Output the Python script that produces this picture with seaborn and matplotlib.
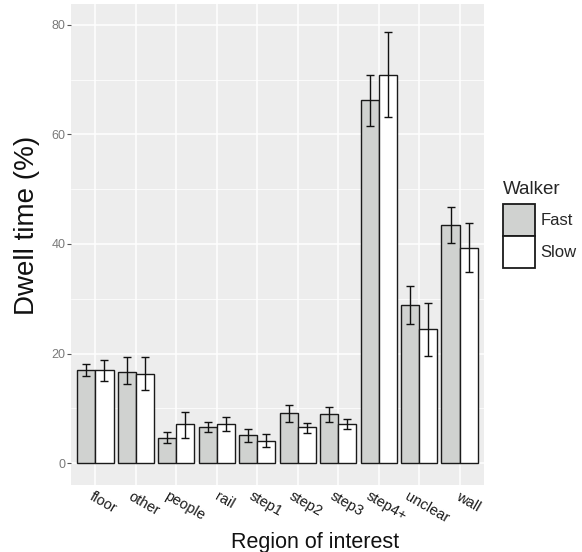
import numpy as np
import pandas as pd
import matplotlib
matplotlib.use('Agg')
import matplotlib.pyplot as plt
import matplotlib.patches as mpatches
import matplotlib.transforms as mtransforms
import seaborn as sns

# Data (dwell time %, with lower/upper error bar ends)
regions = ['floor', 'other', 'people', 'rail', 'step1', 'step2', 'step3', 'step4+', 'unclear', 'wall']
walkers = ['Fast', 'Slow']

fast_mean = [17.0, 16.7, 4.6, 6.6, 5.1, 9.1, 8.9, 66.2, 28.9, 43.5]
fast_low = [15.9, 14.4, 3.6, 5.6, 3.8, 7.5, 7.5, 61.6, 25.4, 40.2]
fast_high = [18.1, 19.3, 5.6, 7.5, 6.3, 10.6, 10.2, 70.8, 32.3, 46.8]

slow_mean = [17.0, 16.3, 7.1, 7.1, 4.1, 6.5, 7.1, 70.9, 24.4, 39.3]
slow_low = [15.0, 13.3, 4.6, 5.8, 2.9, 5.5, 6.15, 63.1, 19.5, 34.8]
slow_high = [18.9, 19.3, 9.4, 8.5, 5.4, 7.4, 8.0, 78.6, 29.3, 43.9]

y_ticks = [0, 20, 40, 60, 80]

df = pd.DataFrame({
    'region': regions * 2,
    'walker': ['Fast'] * len(regions) + ['Slow'] * len(regions),
    'dwell': fast_mean + slow_mean,
    'low': fast_low + slow_low,
    'high': fast_high + slow_high,
})

sns.set_theme(style='darkgrid')
plt.rcParams['font.family'] = ['Liberation Sans', 'DejaVu Sans']

fig = plt.figure(figsize=(5.82, 5.52), dpi=100)
ax = fig.add_axes([71 / 582, 1 - 485 / 552, 413 / 582, 481 / 552])
ax.set_facecolor('#EDEDED')

palette = {'Fast': '#D0D2D0', 'Slow': '#FFFFFF'}
sns.barplot(data=df, x='region', y='dwell', hue='walker', order=regions,
            hue_order=walkers, palette=palette, errorbar=None, width=0.9,
            edgecolor='#1a1a1a', linewidth=1.0, saturation=1, ax=ax, legend=False, zorder=3)

# error bars at the bar centres
for cont, w in zip(ax.containers, walkers):
    sub = df[df['walker'] == w].set_index('region').loc[regions]
    xs = [p.get_x() + p.get_width() / 2 for p in cont.patches]
    yerr = [sub['dwell'] - sub['low'], sub['high'] - sub['dwell']]
    ax.errorbar(xs, sub['dwell'], yerr=yerr, fmt='none', ecolor='#111111',
                elinewidth=1.0, capsize=3, capthick=1.0, zorder=4)

ax.set_xlim(-0.6, 9.6)
ax.set_ylim(-4.0, 83.8)
ax.set_yticks(y_ticks)
ax.set_yticks([10, 30, 50, 70], minor=True)
ax.grid(True, which='major', color='white', linewidth=1.1, zorder=0)
ax.grid(True, which='minor', axis='y', color='white', linewidth=0.55, zorder=0)
ax.set_axisbelow(True)
for s in ax.spines.values():
    s.set_visible(False)

ax.tick_params(axis='y', which='major', length=3, width=0.8, color='#555555',
               labelsize=9, labelcolor='#7a7a7a', pad=1, left=True)
ax.tick_params(axis='y', which='minor', length=0)
ax.tick_params(axis='x', length=0, labelsize=10.5, labelcolor='#1a1a1a', pad=3)
offset = mtransforms.ScaledTranslation(8 / 100, 0, fig.dpi_scale_trans)
for lbl in ax.get_xticklabels():
    lbl.set_rotation(-30)
    lbl.set_ha('center')
    lbl.set_transform(lbl.get_transform() + offset)

ax.set_xlabel('Region of interest', fontsize=15.5, color='#111111')
ax.xaxis.set_label_coords((315 - 71) / 413, (485 - 548) / 481)
ax.xaxis.label.set_va('baseline')
ax.set_ylabel('Dwell time (%)', fontsize=20, color='#111111')
ax.yaxis.set_label_coords((27 - 71) / 413, (485 - 225) / 481)
ax.yaxis.label.set_va('center')

handles = [mpatches.Patch(facecolor=palette[w], edgecolor='#1a1a1a', linewidth=1.3, label=w)
           for w in walkers]
leg = fig.legend(handles=handles, title='Walker', loc='upper left',
                 bbox_to_anchor=(491.5 / 582, 1 - 169 / 552), frameon=False,
                 fontsize=12, title_fontsize=13.5, handlelength=1.9, handleheight=2.57,
                 handletextpad=0.35, labelspacing=0.0, borderpad=0.2)
leg._legend_box.align = 'left'
leg._legend_box.sep = 4.5

fig.savefig('out.png', dpi=100)
